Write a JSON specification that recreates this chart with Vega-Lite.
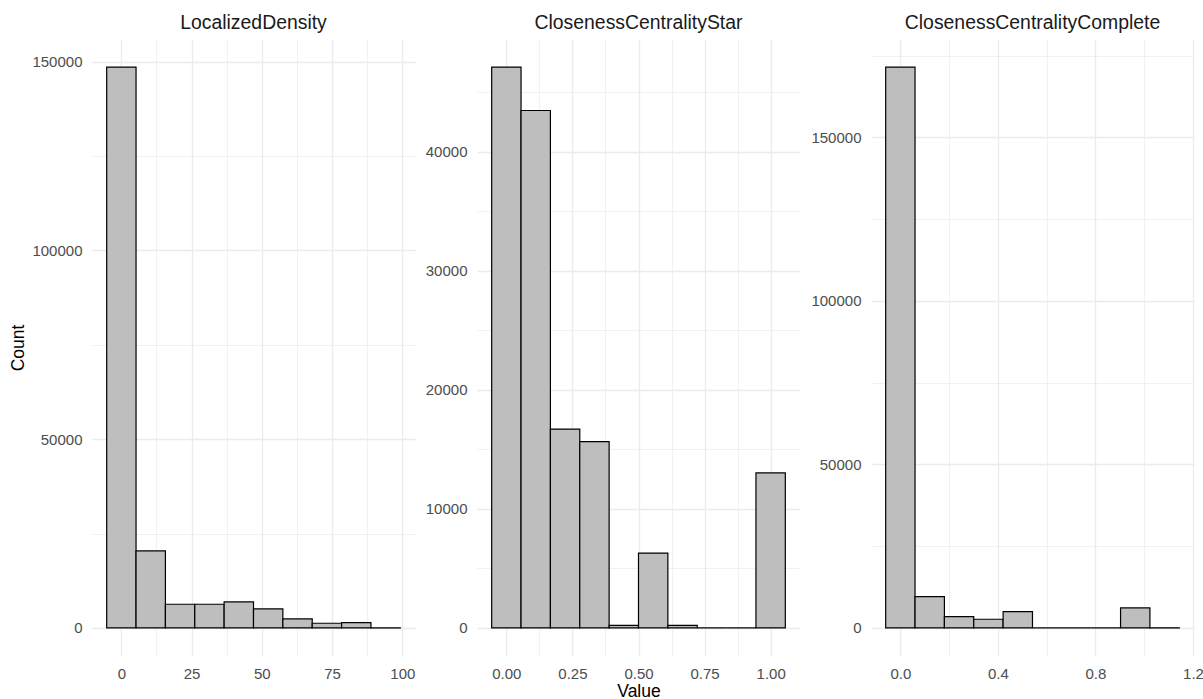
{
  "$schema": "https://vega.github.io/schema/vega-lite/v6.json",
  "background": "white",
  "padding": {"left": 9, "top": 12, "right": 0, "bottom": 0},
  "spacing": 10,
  "config": {
    "view": {"stroke": null},
    "font": "Liberation Sans",
    "axis": {
      "domain": false,
      "ticks": false,
      "labelFont": "Liberation Sans",
      "labelFontSize": 15,
      "labelColor": "#4d4d4d",
      "labelPadding": 10,
      "labelOverlap": false,
      "labelFlush": false,
      "gridColor": "#ebebeb",
      "titleFont": "Liberation Sans",
      "titleFontSize": 17.5,
      "titleFontWeight": "normal",
      "titleColor": "#000000",
      "titlePadding": 4
    },
    "title": {"font": "Liberation Sans", "fontSize": 19.4, "fontWeight": "normal", "color": "#1a1a1a", "anchor": "middle", "offset": 6}
  },
  "datasets": {
    "localized": [
      {"bin_start": -5.225, "bin_end": 5.225, "count": 148600},
      {"bin_start": 5.225, "bin_end": 15.675, "count": 20400},
      {"bin_start": 15.675, "bin_end": 26.125, "count": 6280},
      {"bin_start": 26.125, "bin_end": 36.575, "count": 6280},
      {"bin_start": 36.575, "bin_end": 47.025, "count": 6890},
      {"bin_start": 47.025, "bin_end": 57.475, "count": 5030},
      {"bin_start": 57.475, "bin_end": 67.925, "count": 2380},
      {"bin_start": 67.925, "bin_end": 78.375, "count": 1250},
      {"bin_start": 78.375, "bin_end": 88.825, "count": 1430},
      {"bin_start": 88.825, "bin_end": 99.275, "count": 30}
    ],
    "star": [
      {"bin_start": -0.05556, "bin_end": 0.05556, "count": 47100},
      {"bin_start": 0.05556, "bin_end": 0.16667, "count": 43450},
      {"bin_start": 0.16667, "bin_end": 0.27778, "count": 16700},
      {"bin_start": 0.27778, "bin_end": 0.38889, "count": 15650},
      {"bin_start": 0.38889, "bin_end": 0.5, "count": 220},
      {"bin_start": 0.5, "bin_end": 0.61111, "count": 6290},
      {"bin_start": 0.61111, "bin_end": 0.72222, "count": 220},
      {"bin_start": 0.72222, "bin_end": 0.83333, "count": 0},
      {"bin_start": 0.83333, "bin_end": 0.94444, "count": 0},
      {"bin_start": 0.94444, "bin_end": 1.05556, "count": 13020}
    ],
    "complete": [
      {"bin_start": -0.0602, "bin_end": 0.0602, "count": 171480},
      {"bin_start": 0.0602, "bin_end": 0.1806, "count": 9600},
      {"bin_start": 0.1806, "bin_end": 0.301, "count": 3490},
      {"bin_start": 0.301, "bin_end": 0.4214, "count": 2660},
      {"bin_start": 0.4214, "bin_end": 0.5418, "count": 5010},
      {"bin_start": 0.5418, "bin_end": 0.6622, "count": 0},
      {"bin_start": 0.6622, "bin_end": 0.7826, "count": 0},
      {"bin_start": 0.7826, "bin_end": 0.903, "count": 0},
      {"bin_start": 0.903, "bin_end": 1.0234, "count": 6110},
      {"bin_start": 1.0234, "bin_end": 1.1438, "count": 40}
    ]
  },
  "hconcat": [
    {
      "title": "LocalizedDensity",
      "width": 323,
      "height": 617,
      "data": {"name": "localized"},
      "mark": {"type": "bar", "fill": "#bebebe", "stroke": "#000000", "strokeWidth": 1.2},
      "encoding": {
        "x": {
          "field": "bin_start", "type": "quantitative",
          "scale": {"domain": [-10.45, 104.5], "nice": false, "zero": false},
          "axis": {
            "title": null,
            "values": [0, 12.5, 25, 37.5, 50, 62.5, 75, 87.5, 100],
            "format": "d",
            "labelExpr": "round(datum.value / 12.5) % 2 === 0 ? datum.label : ''",
            "gridWidth": {"condition": {"test": "round(datum.value / 12.5) % 2 === 0", "value": 1.3}, "value": 0.7}
          }
        },
        "x2": {"field": "bin_end"},
        "y": {
          "field": "count", "type": "quantitative",
          "scale": {"domain": [-7430, 156030], "nice": false, "zero": false},
          "axis": {
            "title": "Count",
            "values": [0, 25000, 50000, 75000, 100000, 125000, 150000],
            "format": "d",
            "labelExpr": "round(datum.value / 25000) % 2 === 0 ? datum.label : ''",
            "gridWidth": {"condition": {"test": "round(datum.value / 25000) % 2 === 0", "value": 1.3}, "value": 0.7}
          }
        },
        "y2": {"datum": 0}
      }
    },
    {
      "title": "ClosenessCentralityStar",
      "width": 323,
      "height": 617,
      "data": {"name": "star"},
      "mark": {"type": "bar", "fill": "#bebebe", "stroke": "#000000", "strokeWidth": 1.2},
      "encoding": {
        "x": {
          "field": "bin_start", "type": "quantitative",
          "scale": {"domain": [-0.11111, 1.11111], "nice": false, "zero": false},
          "axis": {
            "title": "Value",
            "titlePadding": 1,
            "values": [0, 0.125, 0.25, 0.375, 0.5, 0.625, 0.75, 0.875, 1],
            "format": ".2f",
            "labelExpr": "round(datum.value / 0.125) % 2 === 0 ? datum.label : ''",
            "gridWidth": {"condition": {"test": "round(datum.value / 0.125) % 2 === 0", "value": 1.3}, "value": 0.7}
          }
        },
        "x2": {"field": "bin_end"},
        "y": {
          "field": "count", "type": "quantitative",
          "scale": {"domain": [-2355, 49455], "nice": false, "zero": false},
          "axis": {
            "title": null,
            "values": [0, 5000, 10000, 15000, 20000, 25000, 30000, 35000, 40000, 45000],
            "format": "d",
            "labelExpr": "round(datum.value / 5000) % 2 === 0 ? datum.label : ''",
            "gridWidth": {"condition": {"test": "round(datum.value / 5000) % 2 === 0", "value": 1.3}, "value": 0.7}
          }
        },
        "y2": {"datum": 0}
      }
    },
    {
      "title": "ClosenessCentralityComplete",
      "width": 323,
      "height": 617,
      "data": {"name": "complete"},
      "mark": {"type": "bar", "fill": "#bebebe", "stroke": "#000000", "strokeWidth": 1.2},
      "encoding": {
        "x": {
          "field": "bin_start", "type": "quantitative",
          "scale": {"domain": [-0.1204, 1.2042], "nice": false, "zero": false},
          "axis": {
            "title": null,
            "values": [0, 0.2, 0.4, 0.6, 0.8, 1.0, 1.2],
            "format": ".1f",
            "labelExpr": "round(datum.value / 0.2) % 2 === 0 ? datum.label : ''",
            "gridWidth": {"condition": {"test": "round(datum.value / 0.2) % 2 === 0", "value": 1.3}, "value": 0.7}
          }
        },
        "x2": {"field": "bin_end"},
        "y": {
          "field": "count", "type": "quantitative",
          "scale": {"domain": [-8574, 180054], "nice": false, "zero": false},
          "axis": {
            "title": null,
            "values": [0, 25000, 50000, 75000, 100000, 125000, 150000, 175000],
            "format": "d",
            "labelExpr": "round(datum.value / 25000) % 2 === 0 ? datum.label : ''",
            "gridWidth": {"condition": {"test": "round(datum.value / 25000) % 2 === 0", "value": 1.3}, "value": 0.7}
          }
        },
        "y2": {"datum": 0}
      }
    }
  ]
}
